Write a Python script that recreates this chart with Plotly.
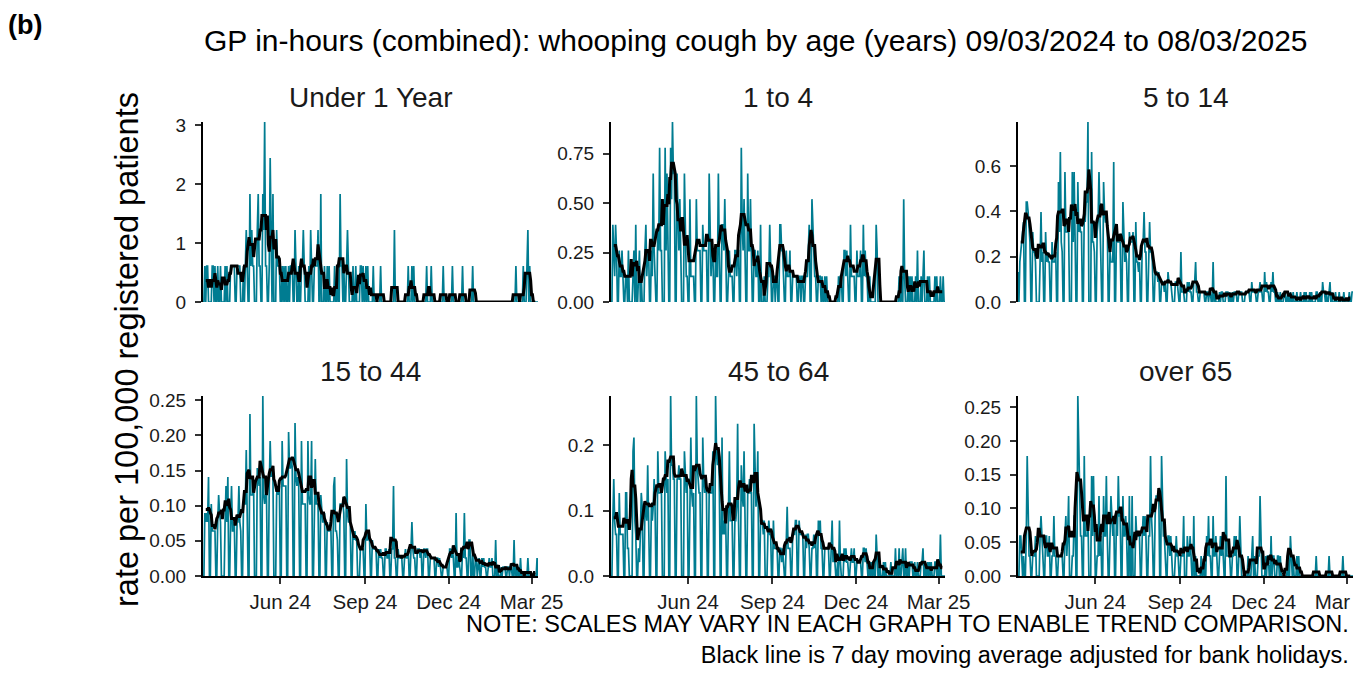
import pandas as pd
import plotly.graph_objects as go

# 日別の件数（週ごと: 土 日 月 火 水 木 金）、09/03/2024 から 08/03/2025
under_1 = [
    [0,0,1,0,1,1,0], [0,0,0,1,1,0,1], [0,0,1,0,0,1,0], [0,0,0,1,0,1,0],
    [0,0,1,1,1,1,1], [0,0,1,1,1,1,0], [0,0,1,0,1,2,1], [0,0,3,1,2,1,1],
    [0,0,0,2,3,1,1], [0,0,3,2,5,1,1], [0,0,1,4,1,0,3], [0,0,0,2,1,1,1],
    [0,0,1,0,1,0,1], [0,0,1,0,1,1,1], [0,0,2,1,0,0,1], [0,0,1,1,2,1,0],
    [0,0,0,1,0,2,1], [0,0,1,1,1,1,2], [0,0,3,0,0,0,1], [0,0,1,0,1,0,0],
    [0,0,0,1,0,0,1], [0,0,3,1,1,0,1], [0,0,1,2,1,0,0], [0,0,1,0,0,1,0],
    [0,0,0,1,1,0,1], [0,0,1,0,1,0,0], [0,0,0,1,0,0,0], [0,0,0,0,1,0,0],
    [0,0,0,0,0,0,0], [0,0,0,0,0,2,0], [0,0,0,0,0,0,0], [0,0,0,0,0,0,1],
    [0,0,0,1,0,1,0], [0,0,0,0,0,0,0], [0,0,0,0,0,1,0], [0,0,0,1,0,0,0],
    [0,0,0,0,0,0,0], [0,0,1,0,0,0,0], [0,0,0,0,0,1,0], [0,0,0,0,0,0,0],
    [0,0,1,0,0,0,0], [0,0,0,0,0,0,1], [0,0,0,0,0,0,0], [0,0,0,0,0,0,0],
    [0,0,0,0,0,0,0], [0,0,0,0,0,0,0], [0,0,0,0,0,0,0], [0,0,0,0,0,0,0],
    [0,0,0,0,1,0,0], [0,0,0,0,0,1,0], [0,0,1,2,0,1,0], [0,0,0,0,0,0,0],
    [0],
]
age_1_4 = [
    [0,0,3,2,1,3,2], [0,0,2,1,1,2,1], [0,0,1,1,0,2,0], [0,0,0,1,2,0,3],
    [0,0,1,2,0,1,0], [0,0,2,3,1,2,2], [0,0,2,1,5,2,1], [0,0,3,2,6,2,2],
    [0,0,0,6,2,5,2], [0,0,6,4,7,5,5], [0,0,5,3,2,4,2], [0,0,0,5,2,1,1],
    [0,0,4,1,1,1,1], [0,0,4,2,2,2,2], [0,0,3,2,2,2,2], [0,0,5,2,1,2,2],
    [0,0,2,1,1,5,2], [0,0,3,3,2,4,2], [0,0,1,2,1,1,1], [0,0,2,2,1,2,2],
    [0,0,6,3,2,4,2], [0,0,5,2,2,4,1], [0,0,2,2,1,1,2], [0,0,3,0,0,0,1],
    [0,0,0,1,1,3,1], [0,0,1,1,0,1,1], [0,0,3,3,2,2,1], [0,0,2,1,1,1,2],
    [0,0,1,1,1,1,1], [0,0,1,1,0,1,1], [0,0,1,1,1,2,3], [0,0,4,3,2,1,1],
    [0,0,1,1,1,0,1], [0,0,1,0,1,0,0], [0,0,0,0,0,0,0], [0,0,0,1,0,1,1],
    [0,0,2,2,1,2,1], [0,0,3,1,1,1,1], [0,0,2,1,1,1,2], [0,0,3,1,2,1,1],
    [0,0,1,0,0,0,0], [0,0,3,2,0,0,0], [0,0,0,0,0,0,0], [0,0,0,0,0,0,0],
    [0,0,0,0,0,0,1], [0,0,1,0,4,1,0], [0,0,1,0,1,0,1], [0,0,0,1,0,2,0],
    [0,0,1,0,1,2,0], [0,0,1,0,1,0,0], [0,0,0,1,0,1,0], [0,0,1,0,0,1,0],
    [0],
]
age_5_14 = [
    [3,0,4,5,6,7,8], [0,0,10,10,9,7,6], [0,0,7,5,5,4,0], [0,0,0,4,9,4,5],
    [0,0,7,4,5,4,4], [0,0,6,4,4,4,5], [0,0,12,7,15,6,5], [0,0,13,7,7,7,7],
    [0,0,0,13,6,13,5], [0,0,12,7,8,7,7], [0,0,9,8,10,10,18], [0,0,0,15,6,6,5],
    [0,0,7,8,13,8,7], [0,0,12,9,8,8,8], [0,0,5,4,4,4,14], [0,0,7,6,6,6,6],
    [0,0,10,5,4,5,4], [0,0,7,6,6,6,7], [0,0,8,4,4,3,4], [0,0,6,6,9,5,5],
    [0,0,5,8,5,5,4], [0,0,3,3,3,2,3], [0,0,2,2,2,1,2], [0,0,3,2,2,2,1],
    [0,0,0,2,2,2,1], [0,0,5,1,1,1,0], [0,0,2,1,2,1,1], [0,0,2,2,4,1,1],
    [0,0,1,1,1,1,1], [0,0,1,1,0,1,1], [0,0,4,0,1,0,0], [0,0,1,0,1,1,0],
    [0,0,1,1,1,0,1], [0,0,1,0,1,1,1], [0,0,1,1,1,1,0], [0,0,1,1,1,1,1],
    [0,0,2,1,1,1,1], [0,0,1,1,2,1,1], [0,0,3,1,2,1,1], [0,0,2,1,3,1,1],
    [0,0,1,0,0,1,0], [0,0,1,1,0,0,1], [0,0,1,0,0,1,0], [0,0,1,0,0,0,1],
    [0,0,0,1,0,1,0], [0,0,1,0,1,0,0], [0,0,1,1,0,0,1], [0,0,2,1,1,0,1],
    [0,0,1,2,0,1,0], [0,0,1,0,0,0,1], [0,0,0,0,1,0,0], [0,0,0,1,0,0,1],
    [1],
]
age_15_44 = [
    [0,0,7,6,7,6,11], [0,0,8,5,5,5,5], [0,0,6,9,7,6,0], [0,0,0,6,10,6,11],
    [0,0,6,10,5,5,6], [0,0,6,6,10,6,5], [0,0,8,8,8,14,9], [0,0,18,9,9,9,10],
    [0,0,0,12,11,10,11], [0,0,20,9,8,9,9], [0,0,10,15,11,12,11], [0,0,0,9,10,9,10],
    [0,0,15,10,10,10,10], [0,0,16,12,12,13,12], [0,0,17,11,10,11,10], [0,0,15,8,8,8,8],
    [0,0,15,9,8,8,15], [0,0,9,13,8,8,8], [0,0,9,7,6,6,7], [0,0,6,5,5,5,5],
    [0,0,10,11,5,5,4], [0,0,8,8,8,8,7], [0,0,13,7,6,6,6], [0,0,5,4,5,4,4],
    [0,0,0,3,3,3,3], [0,0,8,4,4,5,4], [0,0,4,3,3,3,3], [0,0,3,2,3,2,2],
    [0,0,3,3,2,2,3], [0,0,3,3,10,2,2], [0,0,3,2,2,2,2], [0,0,2,3,2,2,3],
    [0,0,3,6,3,2,2], [0,0,3,3,3,2,3], [0,0,3,3,2,3,3], [0,0,2,2,2,2,2],
    [0,0,2,2,1,2,1], [0,0,1,1,1,1,1], [0,0,3,3,2,3,2], [0,0,7,1,1,2,1],
    [0,0,3,2,7,2,2], [0,0,4,4,0,0,3], [0,0,2,2,0,1,2], [0,0,2,1,2,1,1],
    [0,0,1,2,1,1,2], [0,0,0,4,0,1,0], [0,0,1,0,1,1,1], [0,0,1,1,0,1,1],
    [0,0,4,0,1,0,1], [0,0,2,0,0,0,0], [0,0,0,2,0,0,0], [0,0,0,0,0,0,2],
    [0],
]
age_45_64 = [
    [0,0,4,7,4,3,3], [0,0,6,3,3,3,3], [0,0,6,6,2,2,0], [0,0,0,9,10,4,3],
    [0,0,2,1,3,6,5], [0,0,5,5,4,8,4], [0,0,5,4,5,7,5], [0,0,9,6,6,6,6],
    [0,0,0,9,7,6,7], [0,0,13,8,8,7,7], [0,0,7,7,8,7,7], [0,0,0,9,7,6,7],
    [0,0,5,10,6,5,6], [0,0,13,8,7,6,6], [0,0,10,7,6,7,6], [0,0,6,6,6,6,9],
    [0,0,13,9,8,9,7], [0,0,10,3,4,3,4], [0,0,5,9,4,4,4], [0,0,4,4,5,11,4],
    [0,0,8,6,5,9,5], [0,0,6,6,7,6,6], [0,0,11,6,5,6,9], [0,0,4,4,4,3,4],
    [0,0,0,3,4,3,3], [0,0,4,2,2,2,2], [0,0,2,2,1,2,1], [0,0,2,5,2,2,2],
    [0,0,3,3,3,4,4], [0,0,4,3,3,3,3], [0,0,3,2,3,3,2], [0,0,2,2,3,2,3],
    [0,0,4,3,4,2,2], [0,0,2,2,2,2,2], [0,0,2,4,1,2,1], [0,0,1,0,4,1,0],
    [0,0,2,1,2,1,1], [0,0,1,2,1,1,2], [0,0,1,1,1,1,1], [0,0,2,2,1,2,1],
    [0,0,1,0,1,0,1], [0,0,3,1,0,0,1], [0,0,0,1,0,1,0], [0,0,0,0,1,0,0],
    [0,0,2,0,1,0,2], [0,0,1,2,0,0,2], [0,0,1,0,1,1,1], [0,0,1,0,0,1,0],
    [0,0,1,1,2,0,1], [0,0,1,0,1,0,1], [0,0,0,1,1,0,1], [0,0,3,0,0,0,0],
    [0],
]
over_65 = [
    [0,0,2,2,1,0,1], [0,0,2,6,2,1,1], [0,0,1,1,1,2,0], [0,0,0,2,3,2,1],
    [0,0,2,2,1,1,2], [0,0,1,1,3,1,1], [0,0,1,1,1,1,1], [0,0,2,3,1,2,4],
    [0,0,0,1,1,3,3], [0,0,9,6,5,2,2], [0,0,6,2,2,2,3], [0,0,0,5,2,5,2],
    [0,0,1,1,4,1,2], [0,0,4,2,2,5,2], [0,0,2,4,3,2,3], [0,0,3,2,5,3,3],
    [0,0,4,2,2,3,2], [0,0,4,0,0,4,0], [0,0,3,2,2,2,2], [0,0,2,3,2,3,2],
    [0,0,2,2,6,3,2], [0,0,3,4,4,4,4], [0,0,6,3,2,2,1], [0,0,2,2,1,2,1],
    [0,0,0,1,2,1,1], [0,0,1,1,1,3,0], [0,0,2,1,1,2,1], [0,0,3,0,1,0,0],
    [0,0,0,1,0,0,1], [0,0,2,1,3,1,1], [0,0,3,1,1,2,1], [0,0,1,2,1,2,1],
    [0,0,5,1,1,1,1], [0,0,1,1,2,1,2], [0,0,1,3,1,0,0], [0,0,0,0,0,1,0],
    [0,0,1,2,0,1,0], [0,0,1,1,4,1,0], [0,0,0,1,0,1,1], [0,0,2,0,1,1,0],
    [0,0,1,1,0,1,0], [0,0,0,0,0,0,1], [0,0,2,1,0,1,0], [0,0,1,0,1,0,0],
    [0,0,0,0,0,0,0], [0,0,0,0,0,0,0], [0,0,1,0,0,0,0], [0,0,0,0,0,0,0],
    [0,0,1,0,0,0,0], [0,0,0,0,0,0,0], [0,0,0,1,0,0,0], [0,0,0,0,0,0,0],
    [0],
]

# 1件あたりの率（10万人あたり）
rate_per_case = [0.61, 0.13, 0.0441, 0.0128, 0.0212, 0.0296]
panel_titles = ['Under 1 Year', '1 to 4', '5 to 14', '15 to 44', '45 to 64', 'over 65']
ytick_vals = [[0, 1, 2, 3], [0, 0.25, 0.5, 0.75], [0, 0.2, 0.4, 0.6],
              [0, 0.05, 0.1, 0.15, 0.2, 0.25], [0, 0.1, 0.2], [0, 0.05, 0.1, 0.15, 0.2, 0.25]]
ytick_text = [['0', '1', '2', '3'], ['0.00', '0.25', '0.50', '0.75'], ['0.0', '0.2', '0.4', '0.6'],
              ['0.00', '0.05', '0.10', '0.15', '0.20', '0.25'], ['0.0', '0.1', '0.2'],
              ['0.00', '0.05', '0.10', '0.15', '0.20', '0.25']]
xtick_vals = ['2024-06-01', '2024-09-01', '2024-12-01', '2025-03-01']
xtick_text = ['Jun 24', 'Sep 24', 'Dec 24', 'Mar 25']
bank_holidays = ['2024-03-29', '2024-04-01', '2024-05-06', '2024-05-27', '2024-08-26',
                 '2024-12-25', '2024-12-26', '2025-01-01']

dates = pd.date_range('2024-03-09', '2025-03-08', freq='D')
workday = pd.Series(((dates.dayofweek < 5) & ~dates.isin(pd.to_datetime(bank_holidays))).astype(float),
                    index=dates)


def moving_avg(s):
    # 7日移動平均（週末・祝日を除いた平日で平均）
    num = (s * workday).rolling(7, center=True).sum()
    den = workday.rolling(7, center=True).sum()
    return num / den


FONT = 'Liberation Sans, Arial, sans-serif'
TEAL = '#007C91'
col_x = [(203, 538), (611, 945), (1018, 1353)]
row_y = [(122, 302), (396, 576)]
W, H = 1355, 677

fig = go.Figure()
all_counts = [under_1, age_1_4, age_5_14, age_15_44, age_45_64, over_65]
for i, weeks in enumerate(all_counts):
    counts = [v for w in weeks for v in w]
    s = pd.Series(counts, index=dates) * rate_per_case[i]
    ma = moving_avg(s)
    ax = '' if i == 0 else str(i + 1)
    fig.add_trace(go.Scatter(x=dates, y=s, mode='lines', line=dict(color=TEAL, width=1.7),
                             xaxis='x' + ax, yaxis='y' + ax, showlegend=False))
    fig.add_trace(go.Scatter(x=dates, y=ma, mode='lines', line=dict(color='black', width=3),
                             xaxis='x' + ax, yaxis='y' + ax, showlegend=False))
    r, c = divmod(i, 3)
    x0, x1 = col_x[c]
    y0, y1 = row_y[r]
    bottom = r == 1
    fig.update_layout({
        'xaxis' + ax: dict(domain=[x0 / W, x1 / W], anchor='y' + ax, automargin=False,
                           range=[dates[0], dates[-1]], showgrid=False, zeroline=False,
                           showline=bottom, linecolor='black', linewidth=2,
                           ticks='outside' if bottom else '', ticklen=6, tickwidth=1.5, tickcolor='#333',
                           tickvals=xtick_vals, ticktext=xtick_text, showticklabels=bottom,
                           ticklabeloverflow='allow',
                           tickfont=dict(family=FONT, size=20.5, color='#1a1a1a')),
        'yaxis' + ax: dict(domain=[1 - y1 / H, 1 - y0 / H], anchor='x' + ax, automargin=False,
                           range=[0, s.max()], showgrid=False, zeroline=False,
                           showline=True, linecolor='black', linewidth=2,
                           ticks='outside', ticklen=6, tickwidth=1.5, tickcolor='#333',
                           tickvals=ytick_vals[i], ticktext=ytick_text[i], ticklabelstandoff=5,
                           tickfont=dict(family=FONT, size=19, color='#1a1a1a')),
    })
    fig.add_annotation(text=panel_titles[i], x=(x0 + x1) / 2 / W, y=1 - (y0 - 25) / H,
                       xref='paper', yref='paper', showarrow=False, xanchor='center', yanchor='middle',
                       font=dict(family=FONT, size=28, color='#1a1a1a'))

fig.add_annotation(text='GP in-hours (combined): whooping cough by age (years) 09/03/2024 to 08/03/2025',
                   x=756 / W, y=1 - 40 / H, xref='paper', yref='paper', showarrow=False,
                   xanchor='center', yanchor='middle', font=dict(family=FONT, size=30, color='black'))
fig.add_annotation(text='<b>(b)</b>', x=6 / W, y=1 - 25 / H, xref='paper', yref='paper', showarrow=False,
                   xanchor='left', yanchor='middle', font=dict(family=FONT, size=27, color='black'))
fig.add_annotation(text='rate per 100,000 registered patients', textangle=-90,
                   x=127 / W, y=1 - 350 / H, xref='paper', yref='paper', showarrow=False,
                   xanchor='center', yanchor='middle', font=dict(family=FONT, size=32.5, color='black'))
fig.add_annotation(text='NOTE: SCALES MAY VARY IN EACH GRAPH TO ENABLE TREND COMPARISON.<br>'
                        'Black line is 7 day moving average adjusted for bank holidays.',
                   x=1351 / W, y=1 - 639 / H, xref='paper', yref='paper', showarrow=False, align='right',
                   xanchor='right', yanchor='middle', font=dict(family=FONT, size=23.5, color='black'))

fig.update_layout(width=W, height=H, margin=dict(l=0, r=0, t=0, b=0),
                  plot_bgcolor='white', paper_bgcolor='white', showlegend=False)
fig.write_html('out.html', config={'displayModeBar': False},
               post_script="document.body.style.margin='0px';")
